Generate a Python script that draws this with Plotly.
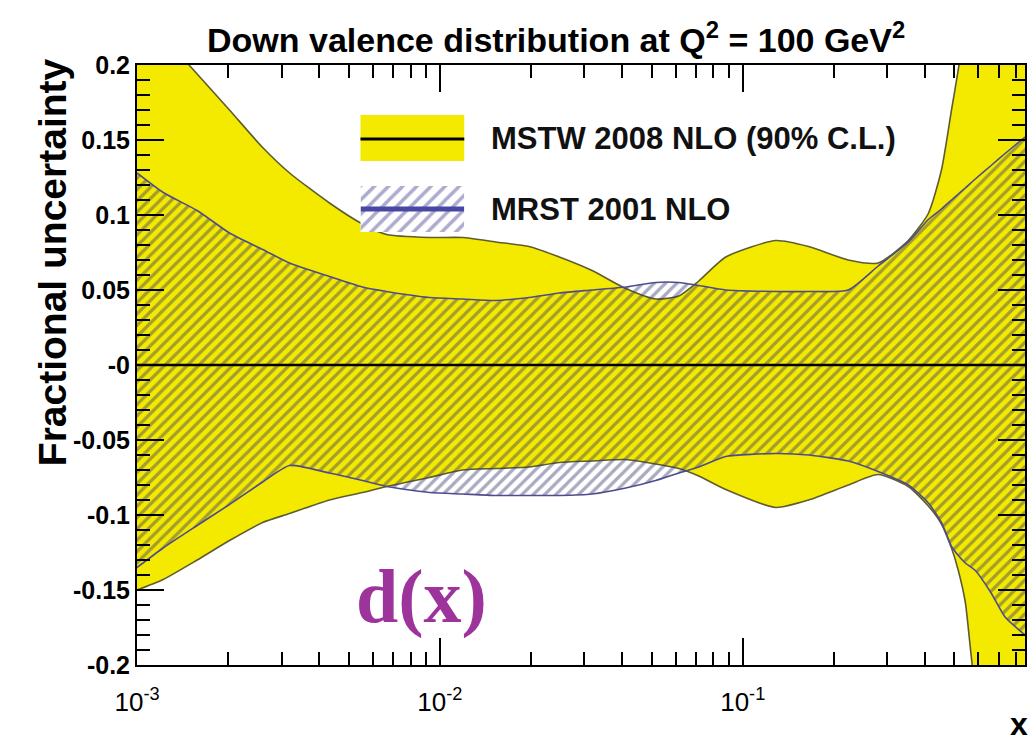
import plotly.graph_objects as go

# ---- data ----
x_vals = [0.00100, 0.00122, 0.00158, 0.00202, 0.00260, 0.00319, 0.00432, 0.00555,
          0.00667, 0.00923, 0.0119, 0.0153, 0.0197, 0.0248, 0.0318, 0.0411, 0.0516,
          0.0615, 0.0716, 0.0879, 0.1285, 0.165, 0.223, 0.280, 0.352, 0.410, 0.453,
          0.489, 0.515, 0.543, 0.586, 0.661, 0.735, 0.855]

mstw_hi = [0.238, 0.219, 0.194, 0.170, 0.145, 0.128, 0.108, 0.094,
           0.087, 0.085, 0.085, 0.082, 0.079, 0.072, 0.063, 0.051, 0.044,
           0.046, 0.056, 0.072, 0.083, 0.079, 0.070, 0.068, 0.083, 0.101, 0.130,
           0.170, 0.197, 0.230, 0.280, 0.330, 0.380, 0.450]

mstw_lo = [-0.150, -0.143, -0.130, -0.117, -0.105, -0.099, -0.090, -0.085,
           -0.081, -0.075, -0.070, -0.069, -0.068, -0.065, -0.064, -0.063, -0.066,
           -0.069, -0.074, -0.083, -0.095, -0.090, -0.080, -0.073, -0.081, -0.094, -0.106,
           -0.122, -0.137, -0.158, -0.215, -0.250, -0.280, -0.300]

mrst_hi = [0.128, 0.115, 0.103, 0.088, 0.077, 0.068, 0.059, 0.052,
           0.049, 0.045, 0.044, 0.043, 0.045, 0.048, 0.050, 0.052, 0.055,
           0.055, 0.053, 0.050, 0.049, 0.049, 0.050, 0.066, 0.082, 0.097, 0.104,
           0.110, 0.114, 0.118, 0.124, 0.133, 0.141, 0.152]

mrst_lo = [-0.135, -0.122, -0.107, -0.093, -0.078, -0.067, -0.072, -0.077,
           -0.081, -0.085, -0.086, -0.087, -0.087, -0.087, -0.086, -0.082, -0.077,
           -0.072, -0.068, -0.061, -0.059, -0.060, -0.064, -0.071, -0.080, -0.092, -0.105,
           -0.121, -0.127, -0.132, -0.137, -0.152, -0.168, -0.180]

central = [0.0] * len(x_vals)

y_tickvals = [0.2, 0.15, 0.1, 0.05, 0.0, -0.05, -0.1, -0.15, -0.2]
y_ticktext = ["0.2", "0.15", "0.1", "0.05", "-0", "-0.05", "-0.1", "-0.15", "-0.2"]
x_tickvals = [0.001, 0.01, 0.1]
x_ticktext = ["10<sup>-3</sup>", "10<sup>-2</sup>", "10<sup>-1</sup>"]
x_minor = [m * d for d in (0.001, 0.01, 0.1) for m in range(2, 10)]

YELLOW = "#f4ea00"
MSTW_EDGE = "#5e5c30"
MRST_EDGE = "#4e4c8e"
HATCH = "rgba(50,50,105,0.85)"

# ---- geometry of the frame (pixels) ----
W, H = 1031, 747
L, R, T, B = 137, 4, 65, 82
PW, PH = W - L - R, H - T - B


def px(xp):
    return (xp - L) / PW


def py(yp):
    return (H - B - yp) / PH


fig = go.Figure()
spline = dict(shape="spline", smoothing=0.6)

fig.add_trace(go.Scatter(x=x_vals, y=mstw_lo, mode="lines",
                         line=dict(color=MSTW_EDGE, width=1.6, **spline),
                         showlegend=False, hoverinfo="skip"))
fig.add_trace(go.Scatter(x=x_vals, y=mstw_hi, mode="lines", fill="tonexty",
                         fillcolor=YELLOW,
                         line=dict(color=MSTW_EDGE, width=1.6, **spline),
                         showlegend=False, hoverinfo="skip"))
fig.add_trace(go.Scatter(x=x_vals, y=mrst_lo, mode="lines",
                         line=dict(color=MRST_EDGE, width=1.6, **spline),
                         showlegend=False, hoverinfo="skip"))
fig.add_trace(go.Scatter(x=x_vals, y=mrst_hi, mode="lines", fill="tonexty",
                         fillcolor="rgba(0,0,0,0)",
                         fillpattern=dict(shape="/", fgcolor=HATCH,
                                          bgcolor="rgba(0,0,0,0)", size=8,
                                          solidity=0.4),
                         line=dict(color=MRST_EDGE, width=1.6, **spline),
                         showlegend=False, hoverinfo="skip"))
fig.add_trace(go.Scatter(x=x_vals, y=central, mode="lines",
                         line=dict(color="black", width=2.5),
                         showlegend=False, hoverinfo="skip"))

# hatched legend swatch on an auxiliary axis
fig.add_trace(go.Scatter(x=[0, 1, 1, 0, 0], y=[0, 0, 1, 1, 0], mode="lines",
                         fill="toself", fillcolor="rgba(0,0,0,0)",
                         fillpattern=dict(shape="/", fgcolor="rgba(70,70,150,0.9)",
                                          bgcolor="rgba(0,0,0,0)", size=10,
                                          solidity=0.35),
                         line=dict(width=0, color="rgba(0,0,0,0)"),
                         xaxis="x2", yaxis="y2", showlegend=False, hoverinfo="skip"))
fig.add_trace(go.Scatter(x=[0, 1], y=[0.5, 0.5], mode="lines",
                         line=dict(color="#4848a4", width=5),
                         xaxis="x2", yaxis="y2", showlegend=False, hoverinfo="skip"))

ytickfont = dict(family="Liberation Sans", size=25, color="black", weight="bold")
xtickfont = dict(family="Liberation Sans", size=26, color="black")

fig.update_layout(
    width=W, height=H,
    margin=dict(l=L, r=R, t=T, b=B),
    paper_bgcolor="white", plot_bgcolor="white",
    showlegend=False,
    xaxis=dict(type="log", range=[-3, -0.068], showgrid=False, zeroline=False,
               showline=True, linecolor="black", linewidth=2, mirror="allticks",
               ticks="inside", ticklen=27, tickwidth=1.5, tickcolor="black",
               tickvals=x_tickvals, ticktext=x_ticktext, tickfont=xtickfont,
               ticklabelstandoff=13,
               minor=dict(tickvals=x_minor, ticks="inside", ticklen=13,
                          tickwidth=1.5, tickcolor="black", showgrid=False)),
    yaxis=dict(range=[-0.2, 0.2], showgrid=False, zeroline=False,
               showline=True, linecolor="black", linewidth=2, mirror="allticks",
               ticks="inside", ticklen=27, tickwidth=1.5, tickcolor="black",
               tickvals=y_tickvals, ticktext=y_ticktext, tickfont=ytickfont,
               minor=dict(dtick=0.01, ticks="inside", ticklen=13, tickwidth=1.5,
                          tickcolor="black", showgrid=False)),
    xaxis2=dict(domain=[px(361), px(465)], range=[0, 1], visible=False,
                anchor="y2", fixedrange=True),
    yaxis2=dict(domain=[py(232), py(186)], range=[0, 1], visible=False,
                anchor="x2", fixedrange=True),
    shapes=[
        dict(type="rect", xref="paper", yref="paper",
             x0=px(361), x1=px(465), y0=py(161), y1=py(115),
             fillcolor=YELLOW, line=dict(width=0), layer="above"),
        dict(type="line", xref="paper", yref="paper",
             x0=px(361), x1=px(465), y0=py(139), y1=py(139),
             line=dict(color="black", width=3), layer="above"),
    ],
    annotations=[
        dict(text="Down valence distribution at Q<sup>2</sup> = 100 GeV<sup>2</sup>",
             xref="paper", yref="paper", x=px(557), y=py(37), showarrow=False,
             font=dict(family="Liberation Sans", size=34, color="black", weight="bold"),
             xanchor="center", yanchor="middle"),
        dict(text="Fractional uncertainty", xref="paper", yref="paper",
             x=px(52), y=py(262), showarrow=False, textangle=-90,
             font=dict(family="Liberation Sans", size=39, color="black", weight="bold"),
             xanchor="center", yanchor="middle"),
        dict(text="x", xref="paper", yref="paper", x=px(1021), y=py(724),
             showarrow=False,
             font=dict(family="Liberation Sans", size=32, color="black", weight="bold"),
             xanchor="center", yanchor="middle"),
        dict(text="d(x)", xref="paper", yref="paper", x=px(422), y=py(596),
             showarrow=False,
             font=dict(family="Liberation Serif", size=76, color="#9c349c", weight="bold"),
             xanchor="center", yanchor="middle"),
        dict(text="MSTW 2008 NLO (90% C.L.)", xref="paper", yref="paper",
             x=px(490), y=py(139), showarrow=False,
             font=dict(family="Liberation Sans", size=31, color="#111111", weight="bold"),
             xanchor="left", yanchor="middle"),
        dict(text="MRST 2001 NLO", xref="paper", yref="paper",
             x=px(490), y=py(209), showarrow=False,
             font=dict(family="Liberation Sans", size=31, color="#111111", weight="bold"),
             xanchor="left", yanchor="middle"),
    ],
)

fig.write_html("out.html")
